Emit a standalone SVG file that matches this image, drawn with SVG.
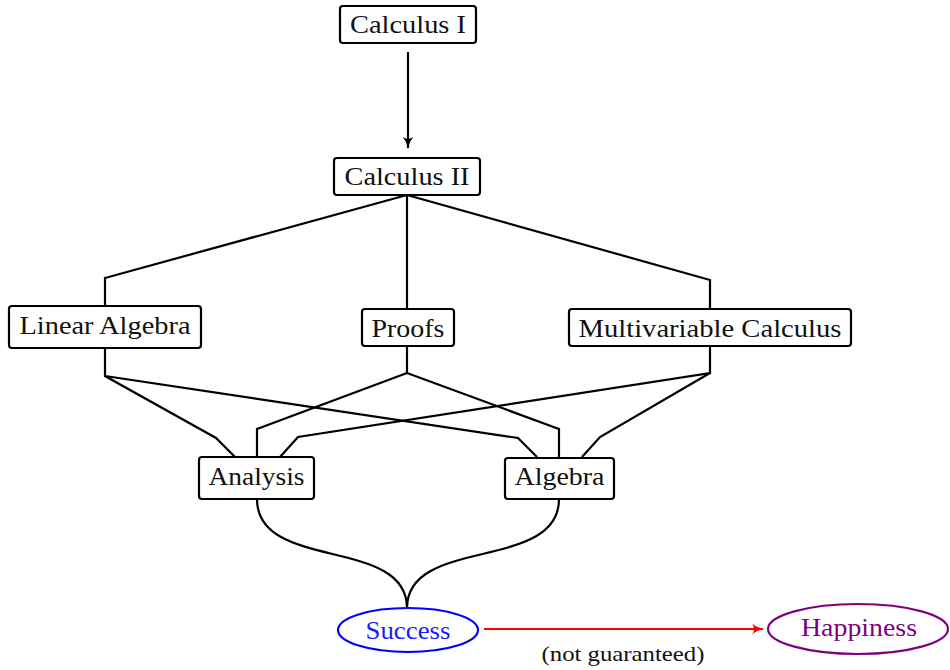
<svg xmlns="http://www.w3.org/2000/svg" width="950" height="670" viewBox="0 0 950 670">
<style>
.box{fill:#fff;stroke:#000;stroke-width:2.2}
.t{font-family:"Liberation Serif","Times New Roman",serif;font-size:26px;fill:#111;text-anchor:middle}
.e{fill:none;stroke:#000;stroke-width:2.2;stroke-linejoin:miter}
</style>
<defs>
<marker id="ahk" viewBox="0 0 10 10" refX="9" refY="5" markerWidth="5.5" markerHeight="5.5" orient="auto" markerUnits="strokeWidth">
<path d="M0,0.5 Q4,4 10,5 Q4,6 0,9.5 Q3,5 0,0.5 Z" fill="#000"/>
</marker>
<marker id="ahr" viewBox="0 0 10 10" refX="9" refY="5" markerWidth="5.5" markerHeight="5.5" orient="auto" markerUnits="strokeWidth">
<path d="M0,0.5 Q4,4 10,5 Q4,6 0,9.5 Q3,5 0,0.5 Z" fill="#f00"/>
</marker>
</defs>
<g id="connectors">
<line class="e" x1="408" y1="52" x2="408" y2="148" marker-end="url(#ahk)"/>
<polyline class="e" points="407,195 105,278 105,306"/>
<polyline class="e" points="407,195 407,309"/>
<polyline class="e" points="407,195 710,280 710,309"/>
<polyline class="e" points="105,348 105,376 216,438 235,457"/>
<polyline class="e" points="105,376 518,438 537,457"/>
<polyline class="e" points="407,346 407,373 257,429 257,457"/>
<polyline class="e" points="407,373 559,429 559,458"/>
<polyline class="e" points="710,346 710,373 298,437 280,457"/>
<polyline class="e" points="710,373 600,437 582,457"/>
<path class="e" d="M257,499 C257,572 407,536 407,608"/>
<path class="e" d="M559,499 C559,572 407,536 407,608"/>
<line x1="484" y1="629" x2="763" y2="629" stroke="#f00" stroke-width="2.2" marker-end="url(#ahr)"/>
<text class="t" x="623" y="661" style="font-size:22px" textLength="163" lengthAdjust="spacingAndGlyphs">(not guaranteed)</text>
</g>
<g id="calc1">
<rect class="box" x="340" y="6" width="136" height="37" rx="3"/>
<text class="t" x="408" y="33" textLength="116" lengthAdjust="spacingAndGlyphs">Calculus I</text>
</g>
<g id="calc2">
<rect class="box" x="334" y="158" width="146" height="37" rx="3"/>
<text class="t" x="407" y="185" textLength="125" lengthAdjust="spacingAndGlyphs">Calculus II</text>
</g>
<g id="linalg">
<rect class="box" x="9" y="306" width="192" height="42" rx="3"/>
<text class="t" x="105" y="333.5" textLength="171" lengthAdjust="spacingAndGlyphs">Linear Algebra</text>
</g>
<g id="proofs">
<rect class="box" x="362" y="309" width="92" height="37" rx="3"/>
<text class="t" x="408" y="336.5" textLength="73" lengthAdjust="spacingAndGlyphs">Proofs</text>
</g>
<g id="multicalc">
<rect class="box" x="569" y="309" width="282" height="37" rx="3"/>
<text class="t" x="710" y="336.5" textLength="263" lengthAdjust="spacingAndGlyphs">Multivariable Calculus</text>
</g>
<g id="analysis">
<rect class="box" x="199" y="457" width="115" height="42" rx="3"/>
<text class="t" x="256.5" y="484.5" textLength="96" lengthAdjust="spacingAndGlyphs">Analysis</text>
</g>
<g id="algebra">
<rect class="box" x="505" y="458" width="109" height="41" rx="3"/>
<text class="t" x="559.5" y="485" textLength="90" lengthAdjust="spacingAndGlyphs">Algebra</text>
</g>
<g id="success">
<ellipse cx="408" cy="630" rx="70" ry="22" fill="#fff" stroke="#00f" stroke-width="2.2"/>
<text class="t" x="408" y="639" style="fill:#1a1aff" textLength="85" lengthAdjust="spacingAndGlyphs">Success</text>
</g>
<g id="happiness">
<ellipse cx="858" cy="629" rx="90" ry="25" fill="#fff" stroke="#800080" stroke-width="2.2"/>
<text class="t" x="859" y="635.5" style="fill:#800080" textLength="116" lengthAdjust="spacingAndGlyphs">Happiness</text>
</g>
</svg>
